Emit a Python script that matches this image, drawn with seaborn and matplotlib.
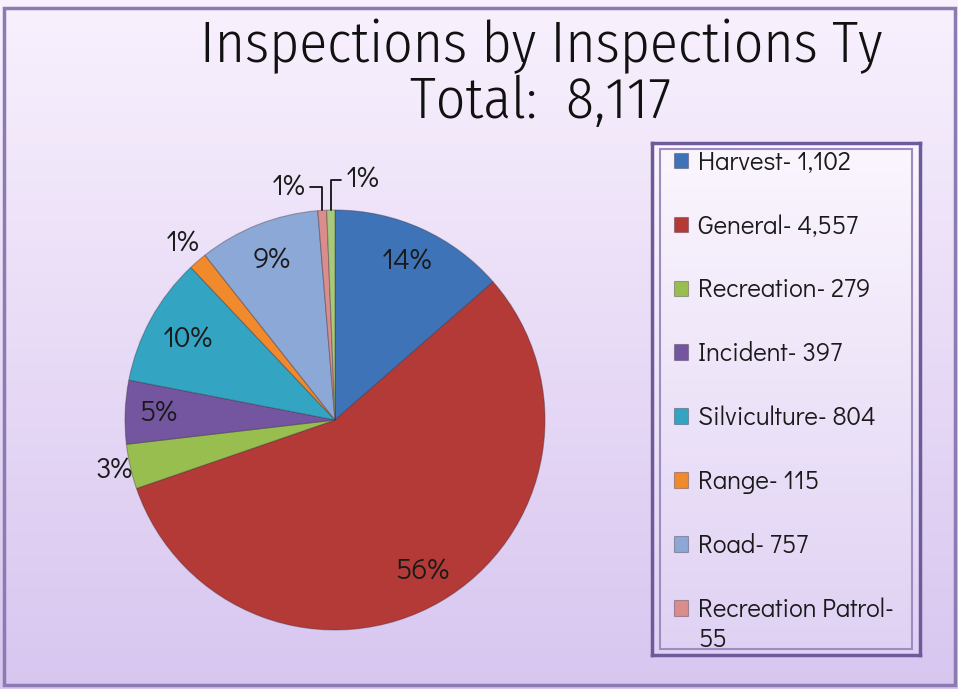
import numpy as np
import matplotlib
matplotlib.use("Agg")
import matplotlib.pyplot as plt
import seaborn as sns
from matplotlib.patches import Rectangle

# data
categories = ["Harvest", "General", "Recreation", "Incident", "Silviculture",
              "Range", "Road", "Recreation Patrol", "Other"]
counts = [1102, 4557, 279, 397, 804, 115, 757, 55, 51]
legendLabels = ["Harvest- 1,102", "General- 4,557", "Recreation- 279", "Incident- 397",
                "Silviculture- 804", "Range- 115", "Road- 757", "Recreation Patrol-"]
legendWrap = "55"
sliceColors = ["#3F73B8", "#B43A37", "#98BE4F", "#7456A0", "#33A5C3",
               "#F08A2C", "#8CA8D6", "#D98E8B", "#A9C97A"]
titleLines = ["Inspections by Inspections Ty", "Total:  8,117"]

sns.set_theme(style="white")
plt.rcParams['font.family'] = ['Didact Gothic', 'DejaVu Sans']
titleFont = ['Fira Sans Condensed', 'Roboto Condensed', 'DejaVu Sans']

W, H = 958, 689
fig = plt.figure(figsize=(W / 100, H / 100), dpi=100)

# background gradient
bg = fig.add_axes([0, 0, 1, 1], zorder=0)
grad = np.linspace(0, 1, 256).reshape(-1, 1)
top = np.array([0.975, 0.945, 0.992])
bottom = np.array([0.845, 0.775, 0.94])
img = top + (bottom - top) * grad[..., None]
bg.imshow(img.reshape(256, 1, 3), aspect='auto', extent=[0, 1, 0, 1])
bg.set_axis_off()
fig.patches.append(Rectangle((0.004, 0.006), 0.993, 0.982, transform=fig.transFigure,
                             fill=False, edgecolor="#8C7BB3", linewidth=2.5, zorder=1))

# title
for k, line in enumerate(titleLines):
    fig.text(541 / W, 1 - (46 + 56 * k) / H, line, ha='center', va='center',
             fontsize=41.5, family=titleFont, weight=300, color='#111111')

# pie
cx, cy, r = 335, 420, 210
ax = fig.add_axes([(cx - 1.3 * r) / W, (H - cy - 1.3 * r) / H, 2.6 * r / W, 2.6 * r / H], zorder=2)
wedges, _ = ax.pie(counts, colors=sliceColors, startangle=90, counterclock=False,
                   radius=1.0, wedgeprops=dict(edgecolor=(0.2, 0.15, 0.2, 0.35), linewidth=0.8))
ax.set_xlim(-1.3, 1.3)
ax.set_ylim(-1.3, 1.3)
ax.set_aspect('equal')
ax.set_axis_off()

total = sum(counts)
labelDist = [0.83, 0.83, 1.08, 0.84, 0.8, 1.11, 0.82, None, None]
for i, w in enumerate(wedges):
    pct = f"{round(100 * counts[i] / total)}%"
    mid = np.deg2rad((w.theta1 + w.theta2) / 2)
    if labelDist[i] is not None:
        d = labelDist[i]
        ax.text(d * np.cos(mid), d * np.sin(mid), pct, ha='center', va='center',
                fontsize=21, color='#1a1a1a')
    else:
        ex, ey = np.cos(mid), np.sin(mid)
        if i == 7:
            tx, ty = ex - 0.16, 1.11
        else:
            tx, ty = ex + 0.15, 1.145
        ax.annotate(pct, xy=(ex, ey), xytext=(tx, ty), ha='center', va='center',
                    fontsize=21, color='#1a1a1a',
                    arrowprops=dict(arrowstyle='-', color='black', lw=1.2,
                                    connectionstyle='angle,angleA=0,angleB=90,rad=0',
                                    shrinkA=1, shrinkB=0))

# legend box
lx0, ly0, lx1, ly1 = 652, 143, 920, 655
lax = fig.add_axes([lx0 / W, 1 - ly1 / H, (lx1 - lx0) / W, (ly1 - ly0) / H], zorder=1)
ltop = np.array([0.985, 0.965, 0.995])
lbot = np.array([0.875, 0.82, 0.955])
limg = ltop + (lbot - ltop) * grad[..., None]
lax.imshow(limg.reshape(256, 1, 3), aspect='auto', extent=[0, 1, 0, 1])
lax.set_xticks([])
lax.set_yticks([])
for s in lax.spines.values():
    s.set_edgecolor('#6E5A9A')
    s.set_linewidth(2.5)
lax.add_patch(Rectangle((0.03, 0.012), 0.94, 0.976, transform=lax.transAxes, fill=False,
                        edgecolor='#9C8CC0', linewidth=1.5))

leg = fig.legend(wedges[:8], legendLabels, loc='upper left',
                 bbox_to_anchor=(674 / W, 1 - 150 / H), bbox_transform=fig.transFigure,
                 frameon=False, fontsize=18.5, handlelength=0.55, handleheight=0.55,
                 handletextpad=0.4, labelspacing=1.535, borderpad=0, borderaxespad=0)
leg.set_zorder(3)
for t in leg.get_texts():
    t.set_color('#1a1a1a')

# second line of the wrapped last legend entry
fig.canvas.draw()
lastBox = leg.get_texts()[-1].get_window_extent()
fig.text(lastBox.x0 / W, (lastBox.y0 - 5) / H, legendWrap, ha='left', va='top',
         fontsize=18.5, color='#1a1a1a', zorder=4)

fig.savefig("out.png", dpi=100)
